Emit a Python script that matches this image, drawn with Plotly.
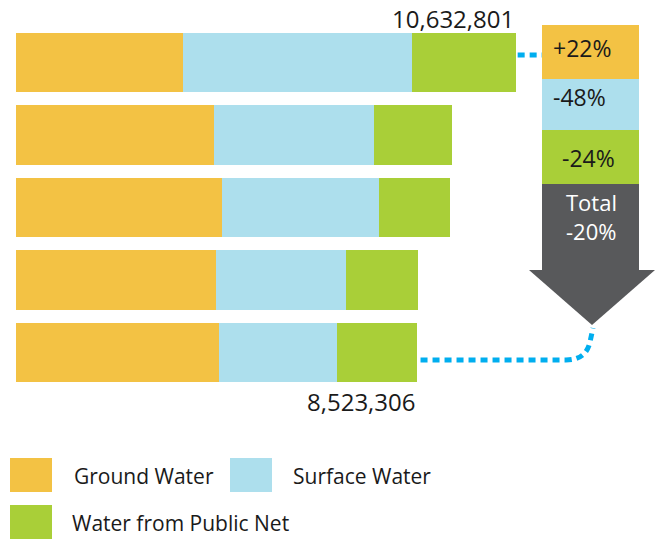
import plotly.graph_objects as go

W, H = 659, 539

periods = ["P1", "P2", "P3", "P4", "P5"]
ground = [3547000, 4205000, 4375000, 4248000, 4320000]
surface = [4885000, 3420000, 3356000, 2782000, 2520000]
public = [2200801, 1657000, 1508000, 1521000, 1683306]
series_names = ["Ground Water", "Surface Water", "Water from Public Net"]
colors = ["#F3C244", "#ADDFED", "#A9CF38"]
changes = ["+22%", "-48%", "-24%"]
total_label = ["Total", "-20%"]

totals = [g + s + p for g, s, p in zip(ground, surface, public)]

def px(x):
    return x / W

def py(y):
    return 1 - y / H

FONT = "Open Sans"
TXT = "#1a1a1a"

fig = go.Figure()
ypos = list(range(len(periods)))
for name, vals, col in zip(series_names, [ground, surface, public], colors):
    fig.add_trace(go.Bar(
        y=ypos, x=vals, orientation="h", name=name,
        marker=dict(color=col, line=dict(width=0)),
        width=0.82, showlegend=False, hoverinfo="x+name",
    ))

scale = 21280.0  # value per pixel
x0px = 16
yc0, ystep = 62.5, 72.5
fig.update_layout(
    barmode="stack",
    width=W, height=H,
    margin=dict(l=0, r=0, t=0, b=0),
    paper_bgcolor="white", plot_bgcolor="white",
    xaxis=dict(visible=False, range=[-x0px * scale, (W - x0px) * scale]),
    yaxis=dict(visible=False, range=[(H - yc0) / ystep, (0 - yc0) / ystep]),
    font=dict(family=FONT, color=TXT),
)

shapes = []
ann = []

# totals labels
ann.append(dict(xref="x", yref="paper", x=totals[0], y=py(19), text=f"{totals[0]:,}",
                showarrow=False, xanchor="right", yanchor="middle",
                font=dict(size=24, color=TXT, family=FONT)))
ann.append(dict(xref="x", yref="paper", x=totals[-1], y=py(401), text=f"{totals[-1]:,}",
                showarrow=False, xanchor="right", yanchor="middle",
                font=dict(size=24, color=TXT, family=FONT)))

# right panel
bx0, bx1 = 542, 639
bands = [(25, 79), (79, 130), (130, 184)]
for (t, b), col in zip(bands, colors):
    shapes.append(dict(type="rect", xref="paper", yref="paper", x0=px(bx0), x1=px(bx1),
                       y0=py(b), y1=py(t), fillcolor=col, line=dict(width=0), layer="above"))
gray = "#58595B"
shapes.append(dict(type="rect", xref="paper", yref="paper", x0=px(bx0), x1=px(bx1),
                   y0=py(270.5), y1=py(184), fillcolor=gray, line=dict(width=0), layer="above"))
path = f"M {px(529)},{py(270)} L {px(655)},{py(270)} L {px(592)},{py(325)} Z"
shapes.append(dict(type="path", xref="paper", yref="paper", path=path,
                   fillcolor=gray, line=dict(width=0), layer="above"))

label_pos = [(551, 48, "left"), (551, 97, "left"), (588, 158, "center")]
for (x, y, anc), txt in zip(label_pos, changes):
    ann.append(dict(xref="paper", yref="paper", x=px(x), y=py(y), text=txt, showarrow=False,
                    xanchor=anc, yanchor="middle", font=dict(size=23, color=TXT, family=FONT)))
for y, txt in zip([202, 231], total_label):
    ann.append(dict(xref="paper", yref="paper", x=px(591), y=py(y), text=txt, showarrow=False,
                    xanchor="center", yanchor="middle", font=dict(size=22, color="white", family=FONT)))

# dotted connectors
dot = dict(color="#00AEEF", width=5, dash="7px,5px")
shapes.append(dict(type="line", xref="x", yref="paper", x0=totals[0] + 2 * scale, x1=(bx0 - x0px) * scale,
                   y0=py(55), y1=py(55), line=dot, layer="below"))
sx = px(x0px + totals[-1] / scale + 4)
bpath = (f"M {sx},{py(360)} L {px(566)},{py(360)} "
         f"Q {px(586)},{py(360)} {px(590)},{py(342)} L {px(593)},{py(328)}")
shapes.append(dict(type="path", xref="paper", yref="paper", path=bpath, line=dot, layer="below"))

# legend
leg = [(10, 458, 72, 476), (230, 458, 291, 476), (10, 505, 70, 523)]
for (sqx, sqy, tx, ty), name, col in zip(leg, series_names, colors):
    shapes.append(dict(type="rect", xref="paper", yref="paper", x0=px(sqx), x1=px(sqx + 42),
                       y0=py(sqy + 34), y1=py(sqy), fillcolor=col, line=dict(width=0)))
    ann.append(dict(xref="paper", yref="paper", x=px(tx), y=py(ty), text=name, showarrow=False,
                    xanchor="left", yanchor="middle", font=dict(size=21, color=TXT, family=FONT)))

fig.update_layout(shapes=shapes, annotations=ann)
fig.write_html("out.html")
